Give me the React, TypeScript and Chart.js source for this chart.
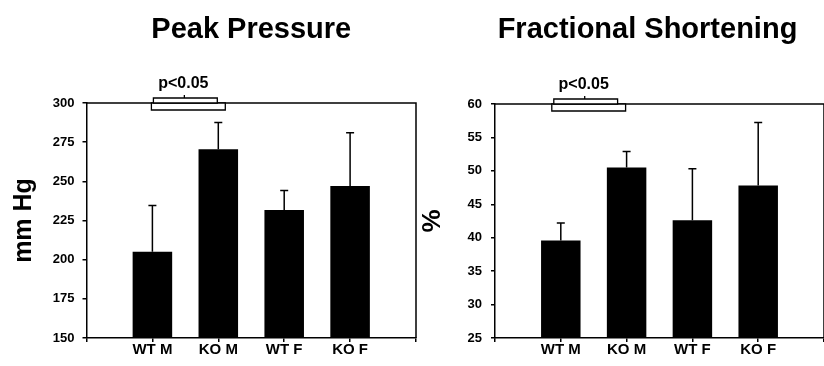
import React, { useEffect, useRef } from 'react';
import { Chart, registerables } from 'chart.js';

Chart.register(...registerables);

// ---- data ----
const categories = ['WT M', 'KO M', 'WT F', 'KO F'];

const pressureTitle = 'Peak Pressure';
const pressureAxisTitle = 'mm Hg';
const pressureMeans = [205, 270.5, 231.7, 247.1];
const pressureErrors = [29.5, 17.1, 12.4, 33.9];
const pressureMin = 150;
const pressureMax = 300;
const pressureStep = 25;

const shorteningTitle = 'Fractional Shortening';
const shorteningAxisTitle = '%';
const shorteningMeans = [39.6, 50.5, 42.6, 47.8];
const shorteningErrors = [2.6, 2.4, 7.7, 9.45];
const shorteningMin = 25;
const shorteningMax = 60;
const shorteningStep = 5;

const sigPairs = [[0, 1]];
const sigLabel = 'p<0.05';

const FONT = '"Liberation Sans", Arial, Helvetica, sans-serif';

const decorPlugin = {
  id: 'decor',
  afterDatasetsDraw(chart: any, _args: any, opts: any) {
    const { ctx } = chart;
    const meta = chart.getDatasetMeta(0);
    const yScale = chart.scales.y;
    ctx.save();
    ctx.strokeStyle = '#000';
    ctx.lineWidth = 1.5;
    opts.means.forEach((m: number, i: number) => {
      const el = meta.data[i];
      if (!el) return;
      const x = el.x;
      const yBar = el.y;
      const yTop = yScale.getPixelForValue(m + opts.errors[i]);
      ctx.beginPath();
      ctx.moveTo(x, yBar);
      ctx.lineTo(x, yTop);
      ctx.moveTo(x - 4, yTop);
      ctx.lineTo(x + 4, yTop);
      ctx.stroke();
    });
    ctx.restore();
  },
  afterDraw(chart: any, _args: any, opts: any) {
    const { ctx, chartArea: a } = chart;
    const meta = chart.getDatasetMeta(0);
    ctx.save();
    // frame top & right
    ctx.strokeStyle = '#000';
    ctx.lineWidth = 1.5;
    ctx.beginPath();
    ctx.moveTo(a.left, a.top);
    ctx.lineTo(a.right, a.top);
    ctx.lineTo(a.right, a.bottom);
    ctx.stroke();

    // title
    ctx.fillStyle = '#000';
    ctx.font = `bold 29px ${FONT}`;
    ctx.textAlign = 'center';
    ctx.textBaseline = 'alphabetic';
    ctx.fillText(opts.title, (a.left + a.right) / 2 + opts.titleShift, 37.5);

    // significance brackets
    const s = opts.bracketShift;
    sigPairs.forEach(([i1, i2]) => {
      const c1 = meta.data[i1].x;
      const c2 = meta.data[i2].x;
      const top = a.top;
      ctx.lineWidth = 1.3;
      ctx.fillStyle = '#fff';
      // lower box
      ctx.beginPath();
      ctx.rect(c1 - 3 + s, top, c2 - c1 + 8, 7);
      ctx.fill();
      ctx.stroke();
      // upper box
      ctx.beginPath();
      ctx.rect(c1 - 1 + s, top - 5, c2 - c1 - 2, 5);
      ctx.fill();
      ctx.stroke();
      const mid = (c1 + c2) / 2 - 3 + s;
      ctx.beginPath();
      ctx.moveTo(mid, top - 5);
      ctx.lineTo(mid, top - 8);
      ctx.stroke();
      ctx.fillStyle = '#000';
      ctx.font = `bold 16px ${FONT}`;
      ctx.textAlign = 'center';
      ctx.textBaseline = 'alphabetic';
      ctx.fillText(sigLabel, mid - 1, top - 15);
    });
    ctx.restore();
  },
};

type PanelProps = {
  left: number;
  width: number;
  title: string;
  axisTitle: string;
  axisTitleSize: number;
  axisTitlePad: number;
  means: number[];
  errors: number[];
  min: number;
  max: number;
  step: number;
  padTop: number;
  padRight: number;
  yWidth: number;
  yTickPad: number;
  titleShift: number;
  bracketShift: number;
};

function Panel(p: PanelProps) {
  const ref = useRef<HTMLCanvasElement>(null);
  useEffect(() => {
    const chart = new Chart(ref.current as HTMLCanvasElement, {
      type: 'bar',
      data: {
        datasets: [
          {
            data: p.means.map((v, i) => ({ x: i + 1, y: v })) as any,
            backgroundColor: '#000',
            borderWidth: 0,
            barPercentage: 0.6,
            categoryPercentage: 1,
          },
        ],
      },
      options: {
        responsive: false,
        animation: false,
        devicePixelRatio: 1,
        layout: { padding: { top: p.padTop, right: p.padRight, bottom: 0, left: 0 } },
        plugins: {
          legend: { display: false },
          tooltip: { enabled: false },
          title: { display: false },
          decor: {
            title: p.title,
            means: p.means,
            errors: p.errors,
            titleShift: p.titleShift,
            bracketShift: p.bracketShift,
          },
        } as any,
        scales: {
          x: {
            type: 'linear',
            min: 0,
            max: 5,
            offset: false,
            ticks: {
              stepSize: 1,
              autoSkip: false,
              maxRotation: 0,
              color: '#000',
              padding: 0,
              font: { family: FONT, size: 15, weight: 'bold', lineHeight: 1.1 },
              callback: (v: any) => categories[Number(v) - 1] ?? '',
            },
            grid: {
              display: true,
              offset: false,
              drawOnChartArea: false,
              drawTicks: true,
              tickLength: 4,
              color: '#000',
              lineWidth: 1.5,
            },
            border: { display: true, color: '#000', width: 1.5 },
            afterFit: (s: any) => {
              s.height = 28;
            },
          },
          y: {
            type: 'linear',
            min: p.min,
            max: p.max,
            ticks: {
              stepSize: p.step,
              color: '#000',
              padding: p.yTickPad,
              font: { family: FONT, size: 13, weight: 'bold' },
            },
            grid: {
              display: true,
              drawOnChartArea: false,
              drawTicks: true,
              tickLength: 4,
              color: '#000',
              lineWidth: 1.5,
            },
            border: { display: true, color: '#000', width: 1.5 },
            title: {
              display: true,
              text: p.axisTitle,
              color: '#000',
              font: { family: FONT, size: p.axisTitleSize, weight: 'bold', lineHeight: 1.2 },
              padding: { top: p.axisTitlePad, bottom: 0 },
            },
            afterFit: (s: any) => {
              s.width = p.yWidth;
            },
          },
        } as any,
      },
      plugins: [decorPlugin],
    });
    return () => chart.destroy();
  }, []);
  return (
    <canvas
      ref={ref}
      width={p.width}
      height={366}
      style={{ position: 'absolute', left: p.left, top: 0, width: p.width, height: 366 }}
    />
  );
}

export default function App() {
  return (
    <div
      style={{
        position: 'absolute',
        left: 0,
        top: 0,
        width: 824,
        height: 366,
        overflow: 'hidden',
        background: '#fff',
      }}
    >
      <Panel
        left={0}
        width={420}
        title={pressureTitle}
        axisTitle={pressureAxisTitle}
        axisTitleSize={25}
        axisTitlePad={9}
        means={pressureMeans}
        errors={pressureErrors}
        min={pressureMin}
        max={pressureMax}
        step={pressureStep}
        padTop={103}
        padRight={4}
        yWidth={86.5}
        yTickPad={8}
        titleShift={0}
        bracketShift={2}
      />
      <Panel
        left={416}
        width={408}
        title={shorteningTitle}
        axisTitle={shorteningAxisTitle}
        axisTitleSize={26}
        axisTitlePad={1}
        means={shorteningMeans}
        errors={shorteningErrors}
        min={shorteningMin}
        max={shorteningMax}
        step={shorteningStep}
        padTop={104}
        padRight={0}
        yWidth={79}
        yTickPad={9}
        titleShift={-12}
        bracketShift={-6}
      />
    </div>
  );
}
